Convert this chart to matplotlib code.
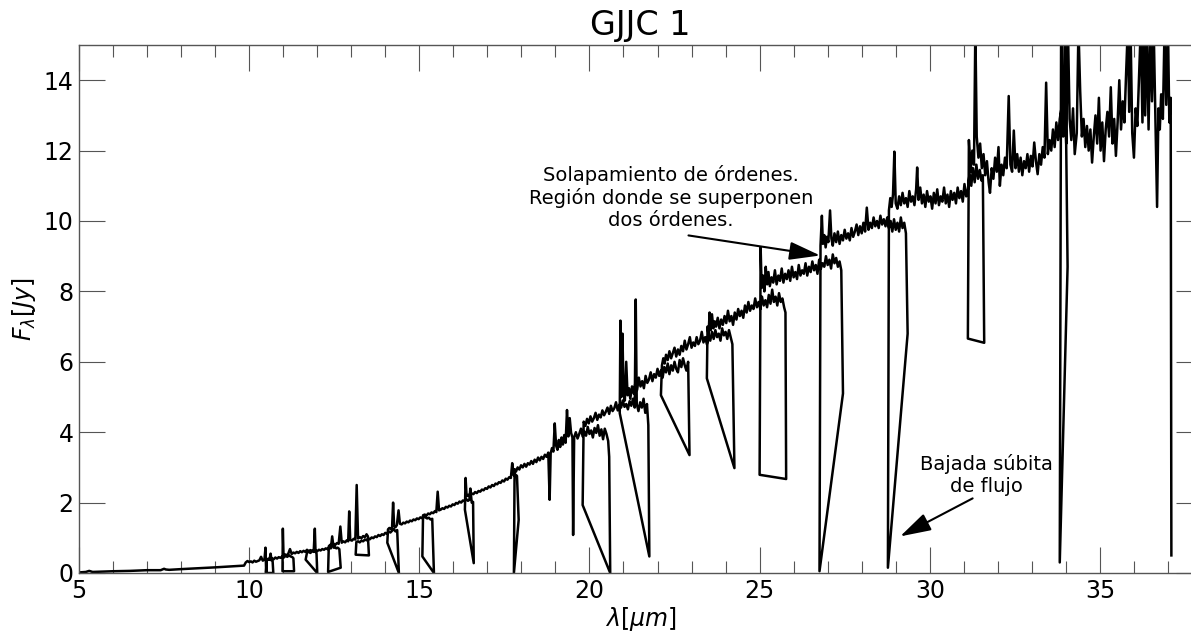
import matplotlib
matplotlib.use("Agg")
import matplotlib.pyplot as plt
from matplotlib.ticker import MultipleLocator
import numpy as np

# Low-resolution stretch (5 - 10 um)
lr_wave = [5.05, 5.2, 5.3, 5.4, 6.0, 6.5, 7.0, 7.4, 7.5, 7.55, 7.65, 8.0, 9.0, 9.85]
lr_flux = [0.02, 0.03, 0.06, 0.03, 0.05, 0.06, 0.08, 0.08, 0.12, 0.1, 0.09, 0.11, 0.16, 0.21]

# Short-high echelle orders
sh0_wave = [9.9, 9.95, 10.0, 10.05, 10.1, 10.15, 10.2, 10.25, 10.3, 10.35, 10.4, 10.45, 10.48,
            10.5, 10.52, 10.55, 10.6, 10.63, 10.66, 10.69, 10.71]
sh0_flux = [0.3, 0.34, 0.31, 0.33, 0.3, 0.35, 0.32, 0.34, 0.36, 0.46, 0.35, 0.38, 0.72,
            0.02, 0.37, 0.4, 0.38, 0.55, 0.36, 0.33, 0.0]

sh1_wave = [10.49, 10.52, 10.57, 10.62, 10.67, 10.72, 10.77, 10.82, 10.87, 10.92, 10.97, 11.02,
            11.07, 11.12, 11.17, 11.22, 11.27, 11.3, 11.32]
sh1_flux = [0.0, 0.36, 0.4, 0.37, 0.42, 0.39, 0.44, 0.41, 0.45, 0.43, 0.47, 0.44,
            0.49, 0.46, 0.5, 0.47, 0.45, 0.42, 0.05]

sh2_wave = [10.98, 10.99, 11.01, 11.05, 11.1, 11.15, 11.2, 11.25, 11.3, 11.35, 11.4, 11.45, 11.5,
            11.55, 11.6, 11.65, 11.7, 11.75, 11.8, 11.85, 11.9, 11.93, 11.95, 11.98, 12.0]
sh2_flux = [0.05, 1.26, 0.5, 0.53, 0.5, 0.55, 0.68, 0.54, 0.58, 0.56, 0.6, 0.57, 0.62,
            0.59, 0.63, 0.6, 0.66, 0.62, 0.65, 0.63, 0.67, 1.26, 0.62, 0.55, 0.0]

sh3_wave = [11.66, 11.7, 11.75, 11.8, 11.85, 11.9, 11.95, 12.0, 12.05, 12.1, 12.15, 12.2, 12.25,
            12.3, 12.35, 12.4, 12.44, 12.48, 12.52, 12.56, 12.6, 12.65, 12.69]
sh3_flux = [0.38, 0.58, 0.6, 0.57, 0.62, 0.6, 0.64, 0.62, 0.66, 0.64, 0.68, 0.66, 0.7,
            0.68, 0.72, 0.7, 1.04, 0.72, 0.74, 0.7, 0.72, 0.68, 0.15]

sh4_wave = [12.32, 12.34, 12.38, 12.43, 12.48, 12.53, 12.58, 12.63, 12.68, 12.72, 12.77, 12.82,
            12.87, 12.91, 12.94, 12.97, 13.02, 13.07, 13.12, 13.16, 13.2, 13.25, 13.3, 13.35,
            13.4, 13.45, 13.49, 13.52]
sh4_flux = [0.03, 0.76, 0.8, 0.78, 0.83, 0.8, 0.85, 0.83, 1.32, 0.86, 0.9, 0.87,
            0.93, 0.9, 1.75, 0.94, 0.92, 0.97, 0.95, 2.5, 0.98, 1.02, 0.99, 1.05,
            1.02, 1.1, 1.04, 0.5]

sh5_wave = [13.13, 13.15, 13.2, 13.25, 13.3, 13.35, 13.4, 13.45, 13.5, 13.55, 13.6, 13.65, 13.7,
            13.75, 13.8, 13.85, 13.9, 13.95, 14.0, 14.05, 14.1, 14.15, 14.2, 14.25, 14.3,
            14.35, 14.4]
sh5_flux = [0.52, 0.88, 0.9, 0.87, 0.92, 0.9, 0.95, 0.93, 0.98, 0.96, 1.01, 0.99, 1.04,
            1.02, 1.08, 1.05, 1.1, 1.08, 1.14, 1.12, 1.18, 1.15, 1.2, 1.25, 1.18,
            1.22, 0.0]

sh6_wave = [14.06, 14.08, 14.12, 14.16, 14.2, 14.23, 14.26, 14.3, 14.34, 14.39, 14.43, 14.48,
            14.53, 14.58, 14.63, 14.68, 14.73, 14.78, 14.83, 14.88, 14.93, 14.98, 15.03, 15.08,
            15.13, 15.18, 15.23, 15.28, 15.33, 15.38, 15.43]
sh6_flux = [0.86, 1.24, 1.28, 1.25, 1.3, 2.0, 1.33, 1.3, 1.36, 1.78, 1.4, 1.38,
            1.43, 1.41, 1.46, 1.44, 1.49, 1.47, 1.52, 1.5, 1.55, 1.53, 1.58, 1.56,
            1.6, 1.58, 1.55, 1.57, 1.52, 1.54, 0.0]

sh7_wave = [15.09, 15.11, 15.16, 15.21, 15.26, 15.31, 15.36, 15.41, 15.46, 15.5, 15.54, 15.58,
            15.63, 15.68, 15.73, 15.78, 15.83, 15.88, 15.93, 15.98, 16.03, 16.08, 16.13, 16.18,
            16.23, 16.28, 16.33, 16.38, 16.43, 16.47, 16.5, 16.54, 16.58, 16.6]
sh7_flux = [0.47, 1.64, 1.66, 1.63, 1.69, 1.67, 1.72, 1.7, 1.76, 1.73, 2.31, 1.78,
            1.8, 1.84, 1.82, 1.88, 1.86, 1.91, 1.89, 1.95, 1.93, 1.99, 1.97, 2.03,
            2.0, 2.06, 2.04, 2.1, 2.05, 2.08, 2.4, 2.0, 2.02, 0.28]

sh8_wave = [16.34, 16.36, 16.39, 16.44, 16.49, 16.54, 16.59, 16.64, 16.69, 16.74, 16.79, 16.84,
            16.89, 16.94, 16.99, 17.04, 17.09, 17.14, 17.19, 17.24, 17.29, 17.34, 17.39, 17.44,
            17.49, 17.54, 17.59, 17.64, 17.69, 17.73, 17.77, 17.82, 17.87, 17.92]
sh8_flux = [1.8, 2.7, 2.18, 2.22, 2.2, 2.26, 2.24, 2.3, 2.27, 2.33, 2.31, 2.37,
            2.35, 2.41, 2.39, 2.46, 2.43, 2.5, 2.47, 2.54, 2.52, 2.58, 2.56, 2.63,
            2.6, 2.68, 2.65, 2.72, 2.7, 3.12, 2.78, 2.8, 2.76, 1.51]

sh9_wave = [17.78, 17.8, 17.84, 17.89, 17.94, 17.99, 18.04, 18.09, 18.14, 18.19, 18.24, 18.29,
            18.34, 18.39, 18.44, 18.49, 18.54, 18.59, 18.64, 18.69, 18.74, 18.79, 18.83, 18.86,
            18.9, 18.94, 18.98, 19.02, 19.06, 19.1, 19.14, 19.18, 19.22, 19.26, 19.3, 19.34,
            19.38, 19.42, 19.46, 19.5, 19.52]
sh9_flux = [0.0, 2.95, 2.88, 3.0, 2.94, 3.06, 3.0, 3.1, 3.02, 3.12, 3.08, 3.18,
            3.1, 3.22, 3.15, 3.28, 3.2, 3.3, 3.24, 3.36, 3.3, 3.42, 2.08, 3.4,
            3.55, 3.45, 4.25, 3.62, 3.5, 3.78, 3.58, 3.85, 3.65, 3.92, 3.7, 4.63,
            3.88, 4.4, 3.98, 3.85, 1.08]

# Long-high echelle orders
lh1_wave = [19.52, 19.55, 19.6, 19.65, 19.7, 19.75, 19.8, 19.85, 19.9, 19.95, 20.0, 20.05,
            20.1, 20.15, 20.2, 20.25, 20.3, 20.35, 20.4, 20.45, 20.5, 20.55, 20.58, 20.61]
lh1_flux = [1.08, 3.85, 4.0, 3.82, 3.95, 4.1, 3.88, 4.02, 3.9, 4.15, 3.95, 4.05,
            3.85, 4.12, 3.98, 4.2, 3.9, 4.08, 3.8, 4.1, 3.95, 3.75, 3.3, 0.0]

lh2_wave = [19.8, 19.83, 19.88, 19.93, 19.98, 20.03, 20.08, 20.13, 20.18, 20.23, 20.28, 20.33,
            20.38, 20.43, 20.48, 20.53, 20.58, 20.63, 20.68, 20.73, 20.78, 20.83, 20.88, 20.93,
            20.98, 21.03, 21.08, 21.13, 21.18, 21.23, 21.28, 21.33, 21.36, 21.39, 21.44, 21.49,
            21.54, 21.59, 21.64, 21.69, 21.73, 21.76]
lh2_flux = [1.93, 4.3, 4.18, 4.38, 4.25, 4.45, 4.3, 4.4, 4.55, 4.35, 4.5, 4.42,
            4.62, 4.48, 4.58, 4.7, 4.52, 4.75, 4.6, 4.68, 4.85, 4.62, 4.78, 4.7,
            4.9, 4.72, 4.8, 4.65, 4.88, 4.75, 4.95, 4.7, 7.77, 4.8, 4.6, 4.85,
            4.7, 4.95, 4.55, 4.8, 4.2, 0.47]

lh3_wave = [20.89, 20.91, 20.94, 20.97, 21.0, 21.04, 21.08, 21.12, 21.16, 21.2, 21.25, 21.3,
            21.35, 21.4, 21.45, 21.5, 21.55, 21.6, 21.65, 21.7, 21.75, 21.8, 21.85, 21.9,
            21.95, 22.0, 22.05, 22.1, 22.15, 22.2, 22.25, 22.3, 22.35, 22.4, 22.45, 22.5,
            22.55, 22.6, 22.65, 22.7, 22.75, 22.8, 22.85, 22.9, 22.94]
lh3_flux = [4.54, 7.17, 5.0, 6.8, 5.15, 4.9, 6.0, 5.05, 5.25, 4.95, 5.3, 5.1,
            5.4, 5.2, 5.55, 5.3, 5.45, 5.25, 5.6, 5.4, 5.5, 5.7, 5.45, 5.65,
            5.55, 5.8, 5.6, 5.75, 5.55, 5.85, 5.7, 5.95, 5.65, 5.9, 5.75, 6.0,
            5.8, 5.7, 6.05, 5.85, 6.1, 5.9, 5.75, 6.0, 3.35]

lh4_wave = [22.1, 22.13, 22.17, 22.21, 22.25, 22.3, 22.35, 22.4, 22.45, 22.5, 22.55, 22.6,
            22.65, 22.7, 22.75, 22.8, 22.85, 22.9, 22.95, 23.0, 23.05, 23.1, 23.15, 23.2,
            23.25, 23.3, 23.35, 23.4, 23.45, 23.5, 23.55, 23.6, 23.65, 23.7, 23.75, 23.8,
            23.85, 23.9, 23.95, 24.0, 24.05, 24.1, 24.15, 24.2, 24.26]
lh4_flux = [5.05, 5.9, 6.1, 5.95, 6.2, 6.05, 6.3, 6.1, 6.25, 6.4, 6.15, 6.35,
            6.2, 6.45, 6.3, 6.6, 6.35, 6.5, 6.7, 6.4, 6.55, 6.45, 6.7, 6.5,
            6.6, 6.85, 6.55, 6.7, 6.5, 6.75, 6.6, 6.85, 6.65, 6.9, 6.7, 6.8,
            6.6, 6.95, 6.75, 6.85, 6.65, 6.9, 6.7, 6.5, 2.98]

lh5_wave = [23.45, 23.47, 23.5, 23.53, 23.56, 23.6, 23.64, 23.68, 23.72, 23.77, 23.82, 23.87,
            23.92, 23.97, 24.02, 24.07, 24.12, 24.17, 24.22, 24.27, 24.32, 24.37, 24.42, 24.47,
            24.52, 24.57, 24.62, 24.67, 24.72, 24.77, 24.82, 24.87, 24.92, 24.97, 25.02, 25.07,
            25.12, 25.17, 25.22, 25.27, 25.32, 25.37, 25.42, 25.47, 25.52, 25.57, 25.62, 25.67,
            25.72, 25.76, 25.78]
lh5_flux = [5.53, 7.0, 6.75, 7.4, 6.9, 7.35, 6.95, 7.15, 7.0, 7.25, 6.95, 7.2,
            7.05, 7.3, 7.1, 7.45, 7.15, 7.3, 7.05, 7.4, 7.2, 7.5, 7.3, 7.45,
            7.25, 7.6, 7.4, 7.7, 7.45, 7.6, 7.5, 7.8, 7.55, 7.7, 7.5, 7.85,
            7.6, 7.75, 7.55, 7.9, 7.65, 8.05, 7.7, 7.85, 7.6, 7.95, 7.7, 7.8,
            7.55, 7.4, 2.67]

lh6_wave = [25.0, 25.03, 25.06, 25.1, 25.14, 25.18, 25.22, 25.26, 25.3, 25.35, 25.4, 25.45,
            25.5, 25.55, 25.6, 25.65, 25.7, 25.75, 25.8, 25.85, 25.9, 25.95, 26.0, 26.05,
            26.1, 26.15, 26.2, 26.25, 26.3, 26.35, 26.4, 26.45, 26.5, 26.55, 26.6, 26.65,
            26.7, 26.75, 26.8, 26.85, 26.9, 26.95, 27.0, 27.05, 27.1, 27.15, 27.2, 27.25,
            27.3, 27.35, 27.4, 27.45]
lh6_flux = [2.79, 9.25, 8.1, 8.45, 8.0, 8.7, 8.2, 8.55, 8.15, 8.4, 8.25, 8.6,
            8.2, 8.45, 8.3, 8.65, 8.25, 8.5, 8.35, 8.6, 8.3, 8.7, 8.4, 8.55,
            8.35, 8.75, 8.45, 8.6, 8.5, 8.8, 8.45, 8.7, 8.55, 8.85, 8.6, 8.75,
            8.5, 8.9, 8.65, 8.8, 8.7, 9.0, 8.75, 8.9, 8.65, 9.05, 8.8, 8.95,
            8.7, 8.85, 8.6, 5.1]

lh7_wave = [26.76, 26.79, 26.83, 26.86, 26.9, 26.94, 26.98, 27.02, 27.07, 27.11, 27.15, 27.2,
            27.25, 27.3, 27.35, 27.4, 27.45, 27.5, 27.55, 27.6, 27.65, 27.7, 27.75, 27.8,
            27.85, 27.9, 27.95, 28.0, 28.05, 28.1, 28.15, 28.2, 28.25, 28.3, 28.35, 28.4,
            28.45, 28.5, 28.55, 28.6, 28.65, 28.7, 28.75, 28.8, 28.85, 28.9, 28.95, 29.0,
            29.05, 29.1, 29.15, 29.2, 29.25, 29.3, 29.35]
lh7_flux = [0.05, 9.3, 10.15, 9.35, 9.6, 9.25, 9.55, 9.4, 10.3, 9.5, 9.3, 9.65,
            9.4, 9.7, 9.35, 9.6, 9.45, 9.75, 9.5, 9.65, 9.45, 9.8, 9.55, 9.7,
            9.9, 9.6, 9.85, 9.65, 9.95, 9.7, 10.38, 9.75, 9.95, 9.8, 10.1, 9.85,
            10.0, 9.8, 10.15, 9.9, 10.05, 9.85, 10.1, 9.8, 10.0, 9.7, 10.05, 9.75,
            9.95, 9.7, 10.1, 9.8, 9.95, 9.65, 6.8]

lh8_wave = [28.77, 28.8, 28.84, 28.88, 28.92, 28.96, 29.0, 29.05, 29.1, 29.15, 29.2, 29.25,
            29.3, 29.35, 29.4, 29.45, 29.5, 29.55, 29.6, 29.63, 29.67, 29.72, 29.77, 29.82,
            29.87, 29.92, 29.97, 30.02, 30.07, 30.12, 30.17, 30.22, 30.27, 30.32, 30.37, 30.42,
            30.47, 30.52, 30.57, 30.62, 30.67, 30.72, 30.77, 30.82, 30.87, 30.92, 30.97, 31.02,
            31.07, 31.12, 31.17, 31.22, 31.27, 31.32, 31.37, 31.42, 31.47, 31.52, 31.56, 31.6]
lh8_flux = [0.15, 10.3, 10.65, 10.4, 10.75, 11.97, 10.5, 10.35, 10.7, 10.45, 10.8, 10.5,
            10.65, 10.4, 10.85, 10.55, 10.7, 10.45, 10.9, 11.52, 10.6, 10.95, 10.5, 10.75,
            10.4, 10.85, 10.55, 10.7, 10.35, 10.8, 10.5, 10.9, 10.45, 10.7, 10.55, 10.95,
            10.5, 10.75, 10.4, 10.85, 10.6, 10.8, 10.5, 10.95, 10.65, 10.85, 10.55, 11.05,
            10.7, 10.9, 11.35, 11.0, 11.5, 11.1, 11.6, 11.2, 11.45, 11.15, 11.3, 6.54]

lh9_wave = [31.12, 31.15, 31.2, 31.25, 31.3, 31.34, 31.38, 31.43, 31.48, 31.53, 31.58, 31.63,
            31.68, 31.73, 31.77, 31.82, 31.87, 31.92, 31.97, 32.02, 32.06, 32.11, 32.16, 32.21,
            32.26, 32.32, 32.37, 32.42, 32.47, 32.52, 32.57, 32.62, 32.67, 32.72, 32.77, 32.82,
            32.87, 32.92, 32.97, 33.02, 33.07, 33.12, 33.17, 33.22, 33.27, 33.32, 33.37, 33.42,
            33.47, 33.52, 33.57, 33.62, 33.67, 33.72, 33.77, 33.82, 33.87, 33.92, 33.97, 34.01,
            34.05]
lh9_flux = [6.66, 12.3, 11.4, 12.0, 11.6, 15.5, 12.4, 11.8, 12.2, 11.5, 11.9, 11.3,
            11.7, 11.1, 10.8, 11.5, 11.2, 11.8, 11.4, 12.1, 11.0, 11.6, 11.3, 11.8,
            11.5, 13.55, 11.6, 11.4, 12.57, 11.5, 11.9, 11.4, 11.8, 11.3, 11.7, 11.5,
            11.9, 11.4, 11.85, 11.55, 12.23, 11.7, 11.33, 11.9, 11.6, 12.1, 11.8, 13.93,
            11.9, 12.3, 12.0, 12.6, 12.1, 12.8, 12.3, 12.9, 13.2, 12.4, 15.5, 12.2,
            8.7]

lh10_wave = [33.82, 33.86, 33.91, 33.96, 34.01, 34.06, 34.11, 34.16, 34.21, 34.26, 34.32, 34.37,
             34.42, 34.47, 34.52, 34.57, 34.62, 34.67, 34.72, 34.77, 34.82, 34.87, 34.92, 34.97,
             35.02, 35.07, 35.12, 35.17, 35.22, 35.27, 35.32, 35.37, 35.42, 35.47, 35.52, 35.57,
             35.62, 35.67, 35.72, 35.77, 35.82, 35.86, 35.9, 35.95, 36.0, 36.05, 36.1, 36.15,
             36.2, 36.25, 36.29, 36.33, 36.38, 36.43, 36.48, 36.53, 36.58, 36.63, 36.68, 36.72,
             36.76, 36.8, 36.85, 36.9, 36.95, 37.0, 37.04, 37.08, 37.1]
lh10_flux = [0.3, 15.5, 12.6, 13.7, 12.2, 15.5, 12.9, 12.3, 13.2, 11.9, 12.5, 15.5,
             13.7, 12.4, 12.9, 12.1, 12.7, 12.0, 12.6, 11.66, 12.4, 13.0, 12.2, 13.5,
             12.0, 12.8, 11.7, 12.6, 13.1, 12.4, 13.8, 12.2, 12.9, 11.85, 12.8, 14.0,
             12.6, 13.4, 12.8, 14.2, 15.5, 13.1, 15.5, 12.5, 11.8, 13.2, 12.7, 14.1,
             15.5, 12.8, 15.5, 13.0, 15.5, 12.6, 15.5, 13.4, 15.5, 12.9, 10.4, 13.2,
             12.6, 13.6, 12.9, 15.5, 13.3, 15.5, 12.8, 13.5, 0.5]

segments = [
    (lr_wave, lr_flux),
    (sh0_wave, sh0_flux), (sh1_wave, sh1_flux), (sh2_wave, sh2_flux),
    (sh3_wave, sh3_flux), (sh4_wave, sh4_flux), (sh5_wave, sh5_flux),
    (sh6_wave, sh6_flux), (sh7_wave, sh7_flux), (sh8_wave, sh8_flux),
    (sh9_wave, sh9_flux),
    (lh1_wave, lh1_flux), (lh2_wave, lh2_flux), (lh3_wave, lh3_flux),
    (lh4_wave, lh4_flux), (lh5_wave, lh5_flux), (lh6_wave, lh6_flux),
    (lh7_wave, lh7_flux), (lh8_wave, lh8_flux), (lh9_wave, lh9_flux),
    (lh10_wave, lh10_flux),
]
for i, (w, f) in enumerate(segments):
    assert len(w) == len(f), f"segment {i}: {len(w)} vs {len(f)}"

wave = np.concatenate([w for w, _ in segments])
flux = np.concatenate([f for _, f in segments])

fig = plt.figure(figsize=(11.91, 6.36), dpi=100)
ax = fig.add_axes([79 / 1191, 63 / 636, (1202 - 79) / 1191, (573 - 45) / 636])

ax.plot(wave, flux, color="black", lw=1.8)

ax.set_xlim(5, 38)
ax.set_ylim(0, 15)
ax.xaxis.set_major_locator(MultipleLocator(5))
ax.xaxis.set_minor_locator(MultipleLocator(1))
ax.yaxis.set_major_locator(MultipleLocator(2))

ax.tick_params(which="both", direction="in", top=True, right=True,
               color="#555555", labelsize=17, pad=4)
ax.tick_params(which="major", length=18.5, width=0.8)
ax.tick_params(which="minor", length=8.6, width=0.8)
for sp in ax.spines.values():
    sp.set_color("#555555")
    sp.set_linewidth(1.0)

ax.set_title("GJJC 1", fontsize=24, pad=7)
ax.set_xlabel(r"$\lambda[\mu m]$", fontsize=17, labelpad=2)
ax.set_ylabel(r"$F_\lambda[Jy]$", fontsize=17, labelpad=4)

# annotations
arrow_style = "-|>,head_length=0.95,head_width=0.28"
ax.text(22.4, 10.67, "Solapamiento de órdenes.\nRegión donde se superponen\ndos órdenes.",
        ha="center", va="center", fontsize=14, linespacing=1.2)
ax.annotate("", xy=(26.78, 9.02), xytext=(22.91, 9.59),
            arrowprops=dict(arrowstyle=arrow_style, color="black", lw=1.5,
                            mutation_scale=20, shrinkA=0, shrinkB=0))

ax.text(31.67, 2.79, "Bajada súbita\nde flujo",
        ha="center", va="center", fontsize=14, linespacing=1.2)
ax.annotate("", xy=(29.13, 1.04), xytext=(31.26, 2.12),
            arrowprops=dict(arrowstyle=arrow_style, color="black", lw=1.5,
                            mutation_scale=20, shrinkA=0, shrinkB=0))

fig.savefig("out.png", dpi=100)
